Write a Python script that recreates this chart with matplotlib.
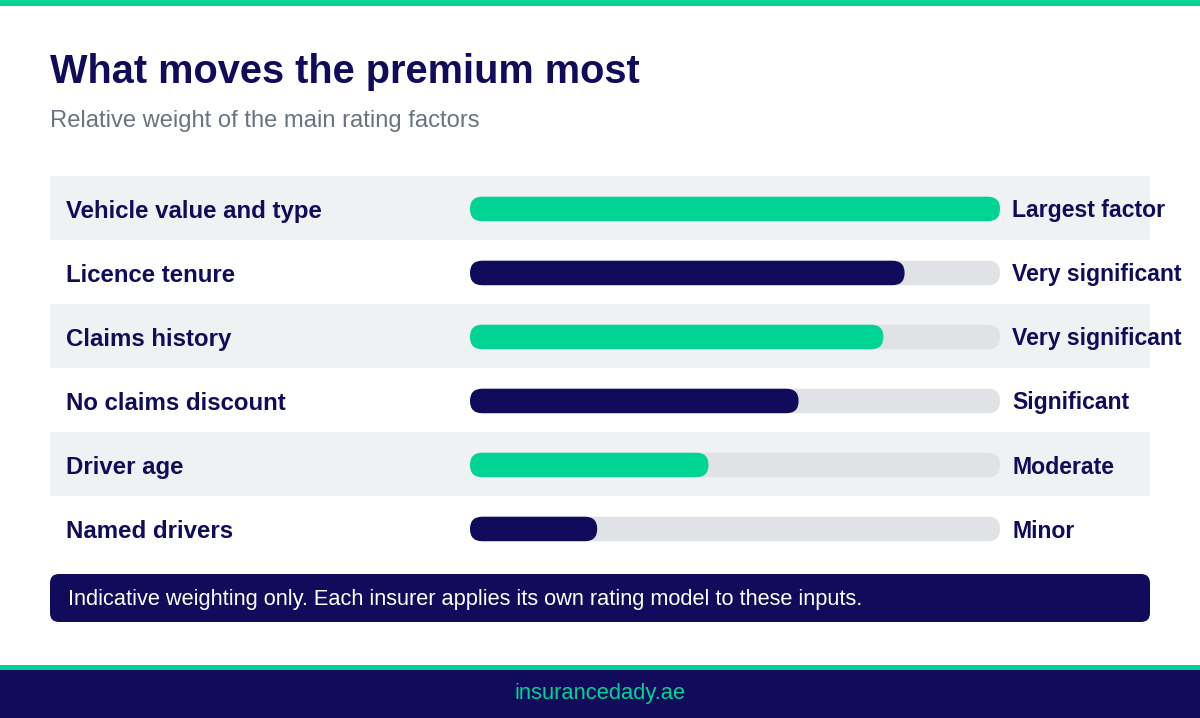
import matplotlib
matplotlib.use("Agg")
import matplotlib.pyplot as plt
from matplotlib.patches import FancyBboxPatch, Rectangle

# ---- data ----
factors = ["Vehicle value and type", "Licence tenure", "Claims history",
           "No claims discount", "Driver age", "Named drivers"]
weights = [100, 82, 78, 62, 45, 24]
levels = ["Largest factor", "Very significant", "Very significant",
          "Significant", "Moderate", "Minor"]
title = "What moves the premium most"
subtitle = "Relative weight of the main rating factors"
note = "Indicative weighting only. Each insurer applies its own rating model to these inputs."
footer = "insurancedady.ae"

# ---- style ----
GREEN = "#00D494"
NAVY = "#100B5A"
TRACK = "#E1E2E6"
SHADE = "#F0F1F3"
GREY = "#6B7280"
FONT = "Liberation Sans"

W, H = 1200, 718
fig = plt.figure(figsize=(W / 100, H / 100), dpi=100)
fig.patch.set_facecolor("white")

# overlay axes in pixel coordinates for layout
bg = fig.add_axes([0, 0, 1, 1])
bg.set_xlim(0, W)
bg.set_ylim(H, 0)
bg.axis("off")

px = 0.72  # points per pixel at dpi 100

# top accent bar
bg.add_patch(Rectangle((0, 0), W, 6, color=GREEN, lw=0))

bg.text(50, 83, title, fontsize=39.8 * px, fontweight="bold", color=NAVY,
        family=FONT, va="baseline", ha="left")
bg.text(50, 126.5, subtitle, fontsize=23.8 * px, color=GREY,
        family=FONT, va="baseline", ha="left")

row_top, row_h = 176, 64
n = len(factors)
for i, (lab, lev) in enumerate(zip(factors, levels)):
    y0 = row_top + i * row_h
    if i % 2 == 0:
        bg.add_patch(Rectangle((50, y0), 1100, row_h, color=SHADE, lw=0, zorder=0))
    yc = y0 + row_h / 2
    bg.text(66, yc + 10, lab, fontsize=24 * px, fontweight="bold", color=NAVY,
            family=FONT, va="baseline", ha="left")
    bg.text(1012, yc + 9.5, lev, fontsize=23 * px, fontweight="bold", color=NAVY,
            family=FONT, va="baseline", ha="left")

# bar axes: x in percent, y in row index
bx0, bw = 470, 530
bar_ax = fig.add_axes([bx0 / W, 1 - (row_top + n * row_h) / H, bw / W, n * row_h / H])
bar_ax.set_xlim(0, 100)
bar_ax.set_ylim(n - 0.5, -0.5)
bar_ax.axis("off")
bar_ax.patch.set_alpha(0)

bar_px = 24.5
hh = bar_px / row_h  # bar height in row units
x_per_px = 100 / bw
y_per_px = 1 / row_h
aspect = y_per_px / x_per_px
r = (bar_px / 2) * x_per_px
for i, v in enumerate(weights):
    col = GREEN if i % 2 == 0 else NAVY
    bar_ax.add_patch(FancyBboxPatch((0, i + 0.015 - hh / 2), 100, hh,
                                    boxstyle=f"round,pad=0,rounding_size={r}",
                                    mutation_aspect=aspect, fc=TRACK, ec="none", lw=0))
    bar_ax.add_patch(FancyBboxPatch((0, i + 0.015 - hh / 2), v, hh,
                                    boxstyle=f"round,pad=0,rounding_size={r}",
                                    mutation_aspect=aspect, fc=col, ec="none", lw=0))

# note box
bg.add_patch(FancyBboxPatch((50, 574), 1100, 48, boxstyle="round,pad=0,rounding_size=9",
                            fc=NAVY, ec="none", lw=0))
bg.text(68, 605.5, note, fontsize=21.75 * px, color="white", family=FONT,
        va="baseline", ha="left")

# footer
bg.add_patch(Rectangle((0, 665), W, 5, color=GREEN, lw=0))
bg.add_patch(Rectangle((0, 670), W, 48, color=NAVY, lw=0))
bg.text(600, 699, footer, fontsize=22 * px, color=GREEN, family=FONT,
        va="baseline", ha="center")

fig.savefig("out.png", dpi=100, facecolor="white")
